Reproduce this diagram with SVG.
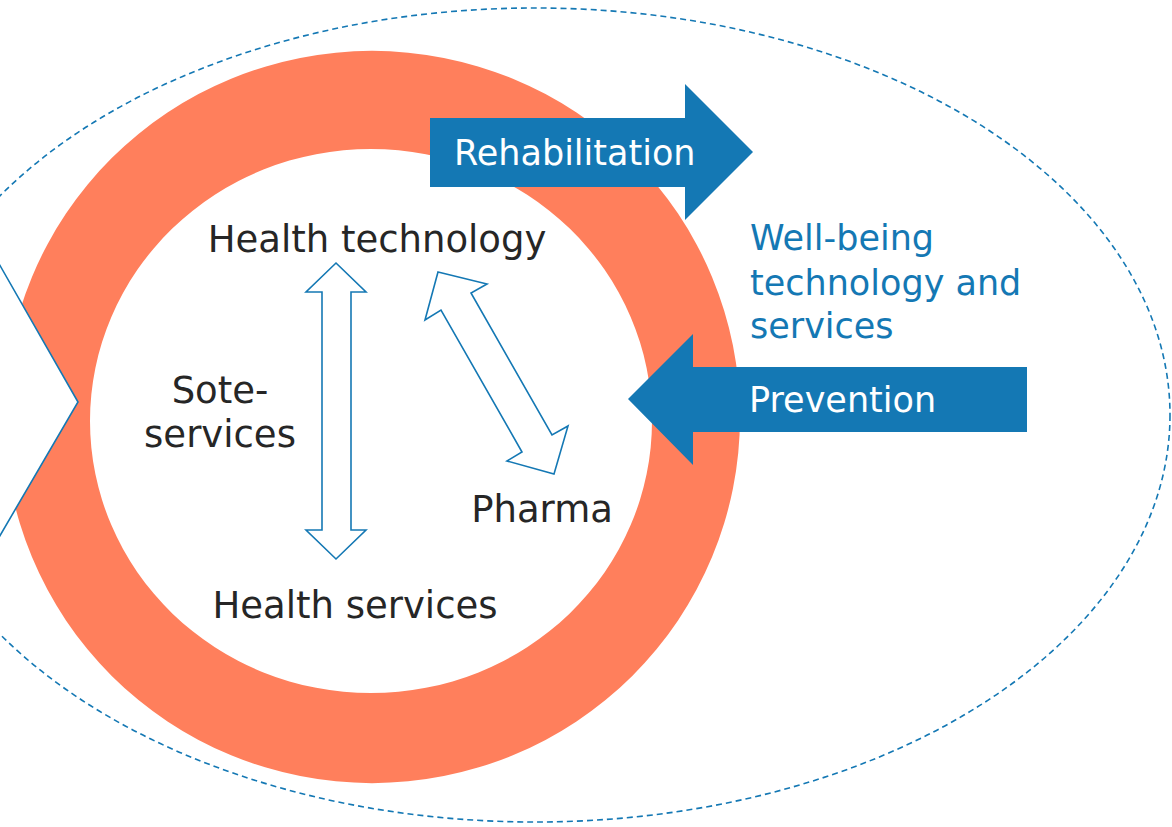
<svg xmlns="http://www.w3.org/2000/svg" width="1172" height="827" viewBox="0 0 1172 827">
<style>
.lbl{font-family:"DejaVu Sans",Verdana,sans-serif;font-size:37px;fill:#262626}
.wht{font-family:"DejaVu Sans",Verdana,sans-serif;font-size:35px;fill:#ffffff}
.blu{font-family:"DejaVu Sans",Verdana,sans-serif;font-size:35px;fill:#1478B4}
.dbl{fill:#ffffff;stroke:#1478B4;stroke-width:1.6;stroke-linejoin:miter}
.big{fill:#1478B4}
</style>
<rect width="1172" height="827" fill="#ffffff"/>
<g id="scope">
<ellipse cx="535" cy="415" rx="635" ry="407" fill="none" stroke="#1478B4" stroke-width="1.6" stroke-dasharray="6 4"/>
</g>
<g id="ring">
<path fill="#FF7F5C" fill-rule="evenodd" d="M4,417 A368,366 0 1,0 740,417 A368,366 0 1,0 4,417 Z M90,421 A281,272 0 1,0 652,421 A281,272 0 1,0 90,421 Z"/>
</g>
<g id="left-chevron">
<polygon points="-2,262 78,402 -2,539" fill="#ffffff" stroke="#1478B4" stroke-width="1.6"/>
</g>
<g id="connectors">
<polygon class="dbl" points="336,263 366,292 351,292 351,530 366,530 336,559 306,530 322,530 322,292 306,292"/>
<polygon class="dbl" points="438,272 487,284 471,293 552,435 568,426 554,474 507,461 522,452 441,310 425,320"/>
</g>
<g id="rehabilitation">
<polygon class="big" points="430,118 685,118 685,84 753,152 685,220 685,187 430,187"/>
<text class="wht" x="454" y="165">Rehabilitation</text>
</g>
<g id="prevention">
<polygon class="big" points="1027,367 693,367 693,334 628,399 693,465 693,432 1027,432"/>
<text class="wht" x="749" y="412">Prevention</text>
</g>
<g id="wellbeing">
<text class="blu" x="750" y="250">Well-being</text>
<text class="blu" x="750" y="295">technology and</text>
<text class="blu" x="750" y="338">services</text>
</g>
<g id="health-technology">
<text class="lbl" x="377" y="252" text-anchor="middle">Health technology</text>
</g>
<g id="sote">
<text class="lbl" x="220" y="403" text-anchor="middle">Sote-</text>
<text class="lbl" x="220" y="447" text-anchor="middle">services</text>
</g>
<g id="pharma">
<text class="lbl" x="542" y="522" text-anchor="middle">Pharma</text>
</g>
<g id="health-services">
<text class="lbl" x="355" y="618" text-anchor="middle">Health services</text>
</g>
</svg>
